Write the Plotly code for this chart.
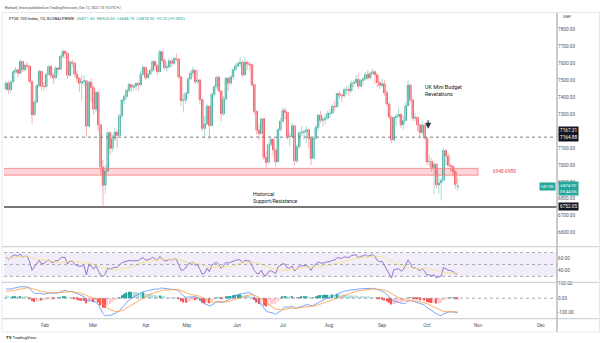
import numpy as np
import pandas as pd
import plotly.graph_objects as go

# ---------------- DATA ----------------
uk_holidays = ['2022-04-15', '2022-04-18', '2022-05-02', '2022-06-02',
               '2022-06-03', '2022-08-29', '2022-09-19']
dates = [d.strftime('%Y-%m-%d') for d in pd.bdate_range('2022-01-07', '2022-10-12')
         if d.strftime('%Y-%m-%d') not in uk_holidays]

opens = [7450, 7485, 7445, 7491, 7551, 7563, 7543, 7612, 7564, 7590,
         7585, 7494, 7297, 7372, 7470, 7554, 7466, 7464, 7535, 7583,
         7529, 7516, 7573, 7567, 7643, 7672, 7661, 7531, 7608, 7603,
         7537, 7513, 7484, 7494, 7498, 7230, 7489, 7458, 7330, 7429,
         7238, 6987, 6880, 6964, 7191, 7099, 7156, 7194, 7175, 7292,
         7385, 7405, 7442, 7476, 7460, 7467, 7483, 7474, 7537, 7578,
         7516, 7538, 7559, 7613, 7587, 7551, 7670, 7618, 7576, 7580,
         7616, 7601, 7629, 7627, 7521, 7381, 7386, 7425, 7509, 7544,
         7561, 7493, 7503, 7388, 7216, 7243, 7348, 7233, 7418, 7464,
         7519, 7438, 7302, 7390, 7513, 7484, 7522, 7564, 7585, 7600,
         7608, 7533, 7608, 7598, 7593, 7476, 7318, 7206, 7187, 7273,
         7045, 7016, 7121, 7152, 7089, 7020, 7208, 7258, 7323, 7312,
         7169, 7169, 7232, 7025, 7108, 7189, 7196, 7196, 7209, 7156,
         7039, 7159, 7223, 7296, 7264, 7270, 7276, 7306, 7306, 7348,
         7345, 7423, 7413, 7409, 7445, 7448, 7439, 7482, 7488, 7507,
         7466, 7500, 7509, 7536, 7516, 7542, 7551, 7534, 7488, 7471,
         7480, 7427, 7361, 7284, 7148, 7281, 7287, 7300, 7238, 7262,
         7351, 7473, 7385, 7277, 7282, 7237, 7193, 7237, 7159, 7019,
         7021, 6984, 7005, 6882, 6894, 6909, 7086, 7053, 6998, 6991,
         6960, 6872]
highs = [7496, 7497, 7500, 7560, 7580, 7570, 7625, 7620, 7600, 7610,
         7590, 7500, 7385, 7480, 7565, 7560, 7490, 7545, 7590, 7590,
         7545, 7585, 7580, 7650, 7687, 7680, 7665, 7620, 7625, 7610,
         7560, 7520, 7530, 7530, 7505, 7500, 7510, 7470, 7440, 7440,
         7240, 7030, 7000, 7200, 7200, 7180, 7220, 7210, 7300, 7390,
         7420, 7450, 7490, 7480, 7480, 7490, 7490, 7560, 7590, 7580,
         7560, 7570, 7620, 7615, 7600, 7680, 7675, 7630, 7600, 7630,
         7625, 7640, 7660, 7630, 7525, 7420, 7430, 7520, 7560, 7580,
         7565, 7560, 7505, 7390, 7290, 7360, 7350, 7430, 7470, 7530,
         7530, 7440, 7410, 7520, 7520, 7530, 7570, 7600, 7610, 7640,
         7620, 7640, 7620, 7610, 7600, 7480, 7320, 7240, 7280, 7280,
         7080, 7130, 7170, 7160, 7100, 7220, 7280, 7340, 7340, 7315,
         7190, 7250, 7240, 7120, 7200, 7230, 7210, 7230, 7215, 7160,
         7170, 7240, 7300, 7320, 7290, 7300, 7320, 7330, 7360, 7380,
         7430, 7440, 7420, 7460, 7470, 7470, 7500, 7500, 7530, 7540,
         7510, 7520, 7550, 7560, 7555, 7570, 7560, 7540, 7500, 7510,
         7500, 7440, 7370, 7290, 7290, 7300, 7340, 7305, 7290, 7370,
         7500, 7480, 7390, 7310, 7290, 7240, 7260, 7245, 7165, 7060,
         7040, 7020, 7010, 6950, 6920, 7100, 7090, 7070, 7010, 7000,
         6970, 6926]
lows = [7440, 7420, 7430, 7488, 7540, 7520, 7540, 7550, 7555, 7570,
        7480, 7245, 7290, 7370, 7460, 7440, 7440, 7460, 7530, 7510,
        7480, 7510, 7530, 7565, 7630, 7630, 7510, 7525, 7580, 7520,
        7490, 7430, 7380, 7470, 7165, 7225, 7370, 7300, 7310, 7200,
        6950, 6760, 6830, 6960, 7060, 7080, 7140, 7100, 7170, 7280,
        7360, 7390, 7430, 7430, 7440, 7440, 7440, 7470, 7530, 7500,
        7510, 7530, 7550, 7560, 7530, 7550, 7600, 7560, 7550, 7570,
        7580, 7590, 7610, 7510, 7350, 7310, 7360, 7420, 7500, 7520,
        7480, 7480, 7360, 7200, 7160, 7240, 7150, 7230, 7400, 7450,
        7430, 7260, 7290, 7385, 7440, 7470, 7500, 7560, 7580, 7580,
        7520, 7530, 7560, 7560, 7460, 7300, 7180, 7150, 7180, 7030,
        6985, 7010, 7110, 7050, 6990, 7015, 7200, 7250, 7270, 7150,
        7110, 7160, 7000, 7010, 7100, 7170, 7150, 7130, 7100, 7000,
        7035, 7150, 7200, 7250, 7230, 7240, 7270, 7280, 7300, 7320,
        7340, 7390, 7370, 7400, 7420, 7410, 7430, 7460, 7480, 7450,
        7460, 7470, 7500, 7500, 7510, 7530, 7480, 7460, 7450, 7460,
        7410, 7350, 7270, 7130, 7140, 7230, 7280, 7220, 7210, 7260,
        7350, 7370, 7260, 7260, 7200, 7170, 7180, 7150, 7000, 6990,
        6960, 6830, 6860, 6830, 6790, 6905, 7000, 6990, 6960, 6930,
        6860, 6849]
closes = [7485, 7445, 7491, 7551, 7563, 7543, 7612, 7564, 7590, 7585,
          7494, 7297, 7372, 7470, 7554, 7466, 7464, 7535, 7583, 7529,
          7516, 7573, 7567, 7643, 7672, 7661, 7531, 7608, 7603, 7537,
          7513, 7484, 7494, 7498, 7230, 7489, 7458, 7330, 7429, 7238,
          6987, 6880, 6964, 7191, 7099, 7156, 7194, 7175, 7292, 7385,
          7405, 7442, 7476, 7460, 7467, 7483, 7474, 7537, 7578, 7516,
          7538, 7559, 7613, 7587, 7551, 7670, 7618, 7576, 7580, 7616,
          7601, 7629, 7627, 7521, 7381, 7386, 7425, 7509, 7544, 7561,
          7493, 7503, 7388, 7216, 7243, 7348, 7233, 7418, 7464, 7519,
          7438, 7302, 7390, 7513, 7484, 7522, 7564, 7585, 7600, 7608,
          7533, 7608, 7598, 7593, 7476, 7318, 7206, 7187, 7273, 7045,
          7016, 7121, 7152, 7089, 7020, 7208, 7258, 7323, 7312, 7169,
          7169, 7232, 7025, 7108, 7189, 7196, 7196, 7209, 7156, 7039,
          7159, 7223, 7296, 7264, 7270, 7276, 7306, 7306, 7348, 7345,
          7423, 7413, 7409, 7445, 7448, 7439, 7482, 7488, 7507, 7466,
          7500, 7509, 7536, 7516, 7542, 7551, 7534, 7488, 7471, 7480,
          7427, 7361, 7284, 7148, 7281, 7287, 7300, 7238, 7262, 7351,
          7473, 7385, 7277, 7282, 7237, 7193, 7237, 7159, 7019, 7021,
          6984, 7005, 6882, 6894, 6909, 7086, 7053, 6998, 6991, 6960,
          6885, 6875]

# closes before the visible window (Oct 2021 - Jan 6 2022), used only to warm up indicators
warmup_close = [7203, 7217, 7223, 7190, 7205, 7223, 7277, 7253, 7249, 7238,
                7288, 7274, 7248, 7280, 7304, 7300, 7274, 7341, 7385, 7348,
                7352, 7326, 7291, 7255, 7223, 7255, 7266, 7286, 7310, 7044,
                7059, 7059, 7168, 7129, 7122, 7232, 7339, 7337, 7321, 7291,
                7231, 7219, 7171, 7260, 7270, 7198, 7297, 7341, 7373, 7372,
                7420, 7403, 7384, 7505, 7517, 7450]

month_labels = ['Feb', 'Mar', 'Apr', 'May', 'Jun', 'Jul', 'Aug', 'Sep', 'Oct', 'Nov', 'Dec']
price_ticks = [7800, 7700, 7600, 7500, 7400, 7300, 7100, 7000, 6900, 6800, 6700, 6600]
rsi_ticks = [60, 40]
macd_ticks = [100, 0, -100]

zone_low, zone_high = 6940, 6980
resistance_level = 7164.88
resistance_level_2 = 7167.31
support_level = 6752.05
last_price = 6874.90

# ---------------- INDICATORS ----------------
all_close = pd.Series(warmup_close + closes, dtype=float)
n_warm = len(warmup_close)

delta = all_close.diff()
gain = delta.clip(lower=0)
loss = -delta.clip(upper=0)
avg_gain = gain.ewm(alpha=1 / 14, adjust=False).mean()
avg_loss = loss.ewm(alpha=1 / 14, adjust=False).mean()
rsi = 100 - 100 / (1 + avg_gain / avg_loss)
rsi_ma = rsi.rolling(14).mean()

ema12 = all_close.ewm(span=12, adjust=False).mean()
ema26 = all_close.ewm(span=26, adjust=False).mean()
macd = ema12 - ema26
signal = macd.ewm(span=9, adjust=False).mean()
hist = macd - signal

rsi_v = rsi.iloc[n_warm:].tolist()
rsi_ma_v = rsi_ma.iloc[n_warm:].tolist()
macd_v = macd.iloc[n_warm:].tolist()
sig_v = signal.iloc[n_warm:].tolist()
hist_all = hist.tolist()
hist_v = hist_all[n_warm:]
hist_colors = []
for k in range(n_warm, len(hist_all)):
    h, p = hist_all[k], hist_all[k - 1]
    if h >= 0:
        hist_colors.append('#26a69a' if h > p else '#b2dfdb')
    else:
        hist_colors.append('#ff5252' if h < p else '#ffcdd2')

# ---------------- FIGURE ----------------
W, H = 602, 343
xi = list(range(len(dates)))
UP, DN = '#1e9e8c', '#f23645'
UPW, DNW = '#a6dbd4', '#f8b0b3'


def px(xp):
    return xp / W


def py(yp):
    return 1 - yp / H


fig = go.Figure()

# wicks
for is_up, col in [(True, UPW), (False, DNW)]:
    wx, wy = [], []
    for i in xi:
        if (closes[i] >= opens[i]) == is_up:
            wx += [i, i, None]
            wy += [lows[i], highs[i], None]
    fig.add_trace(go.Scatter(x=wx, y=wy, mode='lines', line=dict(color=col, width=1),
                             hoverinfo='skip', showlegend=False, xaxis='x', yaxis='y'))

# bodies
fig.add_trace(go.Candlestick(
    x=xi, open=opens, close=closes,
    high=[max(o, c) for o, c in zip(opens, closes)],
    low=[min(o, c) for o, c in zip(opens, closes)],
    increasing=dict(fillcolor=UP, line=dict(color=UP, width=0.8)),
    decreasing=dict(fillcolor=DN, line=dict(color=DN, width=0.8)),
    whiskerwidth=0, showlegend=False, xaxis='x', yaxis='y', text=dates,
))

# RSI
fig.add_trace(go.Scatter(x=xi, y=rsi_v, mode='lines', line=dict(color='#7e57c2', width=0.8),
                         showlegend=False, xaxis='x', yaxis='y2'))
fig.add_trace(go.Scatter(x=xi, y=rsi_ma_v, mode='lines', line=dict(color='#f5e27a', width=0.8),
                         showlegend=False, xaxis='x', yaxis='y2'))

# MACD
fig.add_trace(go.Bar(x=xi, y=hist_v, marker=dict(color=hist_colors, line=dict(width=0)),
                     width=0.6, showlegend=False, xaxis='x', yaxis='y3'))
fig.add_trace(go.Scatter(x=xi, y=macd_v, mode='lines', line=dict(color='#5b8ff9', width=0.8),
                         showlegend=False, xaxis='x', yaxis='y3'))
fig.add_trace(go.Scatter(x=xi, y=sig_v, mode='lines', line=dict(color='#ff9a3c', width=0.8),
                         showlegend=False, xaxis='x', yaxis='y3'))

FONT = 'Roboto, Liberation Sans, sans-serif'
AX_FONT = dict(family=FONT, size=4.7, color='#50535e')

x_dom = [px(4), px(557)]
main_dom = [py(245), py(11)]
rsi_dom = [py(281), py(247)]
macd_dom = [py(318), py(283)]
month_pos = [16.5, 36.8, 59.2, 76.5, 97.7, 117.1, 136.6, 159.0, 178.0, 199.6, 226.2]

shapes = []
# RSI band
shapes.append(dict(type='rect', xref='x domain', yref='y2', x0=0, x1=1, y0=30, y1=70,
                   fillcolor='rgba(126,87,194,0.10)', line=dict(width=0), layer='below'))
for lvl in [70, 50, 30]:
    shapes.append(dict(type='line', xref='x domain', yref='y2', x0=0, x1=1, y0=lvl, y1=lvl,
                       line=dict(color='#9598a1', width=0.8, dash='dot')))
shapes.append(dict(type='line', xref='x domain', yref='y3', x0=0, x1=1, y0=0, y1=0,
                   line=dict(color='#9598a1', width=0.8, dash='dot')))
# zone
shapes.append(dict(type='rect', xref='x', yref='y', x0=-1, x1=199.6, y0=zone_low, y1=zone_high,
                   fillcolor='rgba(242,54,69,0.22)', line=dict(color='#f77c80', width=0.8)))
# resistance dashed
shapes.append(dict(type='line', xref='x domain', yref='y', x0=0, x1=1,
                   y0=resistance_level, y1=resistance_level,
                   line=dict(color='#787b86', width=1, dash='dot')))
# support solid
shapes.append(dict(type='line', xref='x domain', yref='y', x0=0, x1=1,
                   y0=support_level, y1=support_level,
                   line=dict(color='#4a4a4a', width=1.6)))
# frame / separators
for yy in [246, 282, 318.5]:
    shapes.append(dict(type='line', xref='paper', yref='paper', x0=px(2), x1=px(599),
                       y0=py(yy), y1=py(yy), line=dict(color='#d1d4dc', width=1.2)))
shapes.append(dict(type='line', xref='paper', yref='paper', x0=px(557), x1=px(557),
                   y0=py(10.5), y1=py(332), line=dict(color='#b2b5be', width=1.4)))
shapes.append(dict(type='rect', xref='paper', yref='paper', x0=px(2), x1=px(599.5),
                   y0=py(332), y1=py(10.5), line=dict(color='#e0e3eb', width=0.8)))

ann = []
ann.append(dict(xref='paper', yref='paper', x=px(3), y=py(6), xanchor='left', yanchor='middle',
                text='Richard_Snow published on TradingView.com, Oct 12, 2022 13:15 UTC+2',
                showarrow=False, font=dict(family=FONT, size=3.6, color='#444')))
ann.append(dict(xref='paper', yref='paper', x=px(6.5), y=py(16.5), xanchor='left', yanchor='middle',
                text=("FTSE 100 Index, 1D, GLOBALPRIME  <span style='color:#26a69a'>O6871.60  H6925.60  "
                      "L6848.70  C6874.90  +0.20 (+0.00%)</span>"),
                showarrow=False, font=dict(family=FONT, size=4.2, color='#131722')))
ann.append(dict(xref='paper', yref='paper', x=px(561), y=py(15), xanchor='left', yanchor='middle',
                text='GBP', showarrow=False, font=dict(family=FONT, size=4.3, color='#50535e')))
# price boxes
for val, shift, bg in [(resistance_level_2, 6.5, '#131722'), (resistance_level, 0, '#131722'),
                       (support_level, 0, '#131722')]:
    ann.append(dict(xref='paper', yref='y', x=px(558), y=val, xanchor='left', yanchor='middle',
                    yshift=shift, text=f'{val:.2f}', showarrow=False, bgcolor=bg, borderpad=1,
                    font=dict(family=FONT, size=4.7, color='white')))
ann.append(dict(xref='paper', yref='y', x=px(558), y=last_price, xanchor='left', yanchor='middle',
                yshift=-2.5, text=f'{last_price:.2f}<br>09:44:06', showarrow=False,
                bgcolor='#26a69a', borderpad=1,
                font=dict(family=FONT, size=4.3, color='white')))
ann.append(dict(xref='paper', yref='y', x=px(556), y=last_price, xanchor='right', yanchor='middle',
                text='UK100', showarrow=False, bgcolor='#26a69a', borderpad=1,
                font=dict(family=FONT, size=4.3, color='white')))
# text annotations
ann.append(dict(xref='x', yref='y', x=176.5, y=7440, xanchor='left', yanchor='middle',
                text='UK Mini Budget<br>Revelations', showarrow=False, align='left',
                font=dict(family=FONT, size=5.4, color='#131722')))
ann.append(dict(xref='x', yref='y', x=178.5, y=7215, ax=0, ay=-10, text='', showarrow=True,
                arrowhead=2, arrowsize=1.2, arrowwidth=1, arrowcolor='#2a2e39'))
ann.append(dict(xref='x', yref='y', x=103.6, y=6805, xanchor='left', yanchor='middle',
                text='Historical<br>Support/Resistance', showarrow=False, align='left',
                font=dict(family=FONT, size=5, color='#131722')))
ann.append(dict(xref='x', yref='y', x=211, y=6960, xanchor='center', yanchor='middle',
                text=f'{zone_low}-{zone_high}', showarrow=False,
                font=dict(family=FONT, size=4.8, color='#f23645')))
ann.append(dict(xref='paper', yref='paper', x=px(4), y=py(337), xanchor='left', yanchor='middle',
                text='<b>TV</b> TradingView', showarrow=False,
                font=dict(family=FONT, size=4.3, color='#131722')))

fig.update_layout(
    width=W, height=H, margin=dict(l=0, r=0, t=0, b=0),
    paper_bgcolor='white', plot_bgcolor='white', showlegend=False,
    bargap=0.3, boxgap=0.12,
    xaxis=dict(domain=x_dom, range=[-0.85, 233], anchor='y3', showgrid=False, zeroline=False,
               tickmode='array', tickvals=month_pos, ticktext=month_labels, ticks='',
               ticklabelstandoff=3,
               tickfont=AX_FONT, rangeslider=dict(visible=False), showline=False),
    yaxis=dict(domain=main_dom, range=[6523.6, 7899.5], side='right', anchor='x',
               showgrid=False, zeroline=False, tickmode='array', tickvals=price_ticks,
               ticktext=[f'{v:.2f}' for v in price_ticks], tickfont=AX_FONT, ticks=''),
    yaxis2=dict(domain=rsi_dom, range=[21.7, 78.3], side='right', anchor='x',
                showgrid=False, zeroline=False, tickmode='array', tickvals=rsi_ticks,
                ticktext=[f'{v:.2f}' for v in rsi_ticks], tickfont=AX_FONT, ticks=''),
    yaxis3=dict(domain=macd_dom, range=[-138, 103], side='right', anchor='x',
                showgrid=False, zeroline=False, tickmode='array', tickvals=macd_ticks,
                ticktext=[f'{v:.2f}' for v in macd_ticks], tickfont=AX_FONT, ticks=''),
    shapes=shapes, annotations=ann,
)

fig.write_html('out.html')
